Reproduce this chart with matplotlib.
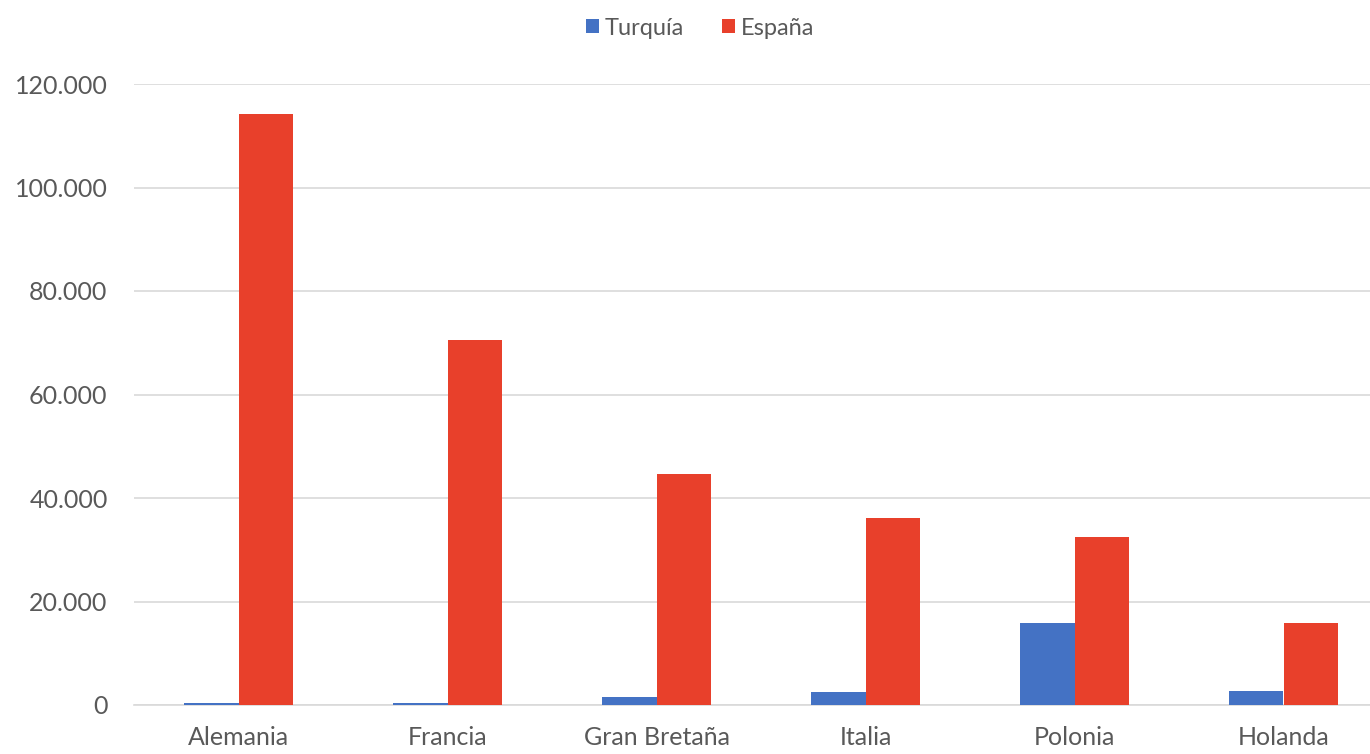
import numpy as np
import matplotlib
matplotlib.use("Agg")
import matplotlib.pyplot as plt
from matplotlib.ticker import FuncFormatter

plt.rcParams['font.family'] = ['Lato', 'DejaVu Sans']

paises = ["Alemania", "Francia", "Gran Bretaña", "Italia", "Polonia", "Holanda"]
turquia = [300, 300, 1500, 2600, 15800, 2700]
espana = [114200, 70500, 44600, 36100, 32500, 15800]

azul = "#4472C4"
rojo = "#E8402B"
gris = "#595959"

fig = plt.figure(figsize=(13.7, 7.54), dpi=100)
ax = fig.add_axes([134 / 1370, 49 / 754, 1254 / 1370, 621 / 754])

x = np.arange(len(paises))
w = 0.263
ax.bar(x - w / 2, turquia, w, color=azul, label="Turquía", zorder=3)
ax.bar(x + w / 2, espana, w, color=rojo, label="España", zorder=3)

ax.set_xlim(-0.5, len(paises) - 0.5)
ax.set_ylim(0, 120000)
ax.set_yticks(np.arange(0, 120001, 20000))
ax.yaxis.set_major_formatter(FuncFormatter(lambda v, p: f"{int(v):,}".replace(",", ".")))
ax.set_xticks(x)
ax.set_xticklabels(paises, fontsize=18)
ax.grid(axis="y", color="#D9D9D9", linewidth=1.2, zorder=0)
for s in ["top", "right", "left"]:
    ax.spines[s].set_visible(False)
ax.spines["bottom"].set_color("#D9D9D9")
ax.spines["bottom"].set_linewidth(1.2)
ax.tick_params(axis="both", length=0, colors=gris, labelsize=18)
ax.tick_params(axis="y", pad=19)
ax.tick_params(axis="x", pad=15)

ax.legend(loc="center", bbox_to_anchor=(0.5 + (700 - 761) / 1254, 1.09),
          ncol=2, frameon=False, fontsize=17, labelcolor=gris,
          handlelength=0.55, handleheight=0.55, handletextpad=0.25, columnspacing=1.6)

fig.savefig("out.png", dpi=100)
